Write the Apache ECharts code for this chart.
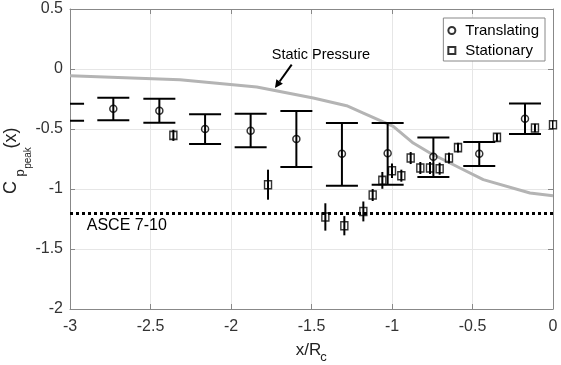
<!DOCTYPE html>
<html>
<head>
<meta charset="utf-8">
<script src="https://cdn.jsdelivr.net/npm/echarts@6/dist/echarts.min.js"></script>
<style>
  html, body { margin: 0; padding: 0; background: #fff; }
  #chart { width: 561px; height: 365px; }
</style>
</head>
<body>
<div id="chart"></div>
<script>
// translating model: position, mean, lower and upper bound
var transX = [-3.012, -2.731, -2.445, -2.161, -1.878, -1.594, -1.311, -1.027, -0.743, -0.458, -0.174];
var transY = [-0.36, -0.331, -0.347, -0.5, -0.514, -0.583, -0.706, -0.703, -0.731, -0.706, -0.414];
var transLo = [-0.431, -0.428, -0.448, -0.625, -0.653, -0.817, -0.973, -0.964, -0.9, -0.808, -0.542];
var transHi = [-0.289, -0.239, -0.248, -0.378, -0.373, -0.35, -0.45, -0.45, -0.57, -0.608, -0.287];

// stationary model: position, mean, +/- spread
var statX = [-2.358, -1.77, -1.414, -1.296, -1.178, -1.12, -1.06, -1.0, -0.942, -0.884, -0.824, -0.764, -0.704, -0.646, -0.59, -0.348, -0.112, 0.0];
var statY = [-0.553, -0.964, -1.233, -1.306, -1.187, -1.05, -0.928, -0.848, -0.889, -0.742, -0.825, -0.825, -0.831, -0.742, -0.655, -0.57, -0.492, -0.464];
var statErr = [0.046, 0.125, 0.114, 0.08, 0.083, 0.05, 0.07, 0.06, 0.05, 0.05, 0.05, 0.05, 0.05, 0.045, 0.04, 0.035, 0.035, 0.035];

// static pressure curve
var staticX = [-3, -2.317, -1.84, -1.489, -1.282, -1.178, -0.992, -0.868, -0.764, -0.578, -0.433, -0.143, 0];
var staticY = [-0.056, -0.089, -0.15, -0.242, -0.306, -0.367, -0.478, -0.617, -0.7, -0.825, -0.922, -1.033, -1.056];

var asceLevel = -1.2;

var xMin = -3, xMax = 0, xStep = 0.5;
var yMin = -2, yMax = 0.5, yStep = 0.5;

var font = 'Liberation Sans, Arial, sans-serif';
var axisGray = '#888';
var labelColor = '#333';

var transData = [], transBars = [];
for (var i = 0; i < transX.length; i++) {
  transData.push([transX[i], transY[i]]);
  transBars.push([transX[i], transLo[i], transHi[i]]);
}
var statData = [], statBars = [];
for (var j = 0; j < statX.length; j++) {
  statData.push([statX[j], statY[j]]);
  statBars.push([statX[j], statY[j] - statErr[j], statY[j] + statErr[j]]);
}
var staticData = [];
for (var k = 0; k < staticX.length; k++) {
  staticData.push([staticX[k], staticY[k]]);
}

function errorBar(cap) {
  return function (params, api) {
    var x = api.value(0);
    var top = api.coord([x, api.value(2)]);
    var bot = api.coord([x, api.value(1)]);
    var st = { stroke: '#000', lineWidth: 2, fill: null };
    var kids = [{ type: 'line', shape: { x1: top[0], y1: top[1], x2: bot[0], y2: bot[1] }, style: st }];
    if (cap > 0) {
      kids.push({ type: 'line', shape: { x1: top[0] - cap, y1: top[1], x2: top[0] + cap, y2: top[1] }, style: st });
      kids.push({ type: 'line', shape: { x1: bot[0] - cap, y1: bot[1], x2: bot[0] + cap, y2: bot[1] }, style: st });
    }
    return { type: 'group', children: kids };
  };
}

var chart = echarts.init(document.getElementById('chart'));

var frameAxis = {
  type: 'value',
  axisLine: { onZero: false, lineStyle: { color: axisGray, width: 1 } },
  axisTick: { inside: true, length: 5, lineStyle: { color: axisGray } },
  axisLabel: { show: false },
  splitLine: { show: false }
};

var option = {
  animation: false,
  grid: { left: 70, right: 8, top: 9, bottom: 56 },
  xAxis: [
    {
      type: 'value', min: xMin, max: xMax, interval: xStep,
      axisLine: { onZero: false, lineStyle: { color: axisGray, width: 1 } },
      axisTick: { inside: true, length: 5, lineStyle: { color: axisGray } },
      axisLabel: { color: labelColor, fontSize: 16, fontFamily: font, margin: 10 },
      splitLine: { show: true, lineStyle: { color: '#e6e6e6', width: 1 } }
    },
    Object.assign({ position: 'top', min: xMin, max: xMax, interval: xStep }, frameAxis)
  ],
  yAxis: [
    {
      type: 'value', min: yMin, max: yMax, interval: yStep,
      axisLine: { onZero: false, lineStyle: { color: axisGray, width: 1 } },
      axisTick: { inside: true, length: 5, lineStyle: { color: axisGray } },
      axisLabel: { color: labelColor, fontSize: 16, fontFamily: font, margin: 7 },
      splitLine: { show: true, lineStyle: { color: '#e6e6e6', width: 1 } }
    },
    Object.assign({ position: 'right', min: yMin, max: yMax, interval: yStep }, frameAxis)
  ],
  legend: {
    orient: 'vertical',
    right: 16,
    top: 18,
    padding: [5, 6, 3, 4],
    itemGap: 5,
    itemWidth: 17,
    itemHeight: 7,
    backgroundColor: '#fff',
    borderColor: '#888',
    borderWidth: 1,
    borderRadius: 0,
    textStyle: { fontSize: 15, fontFamily: font, color: '#000', lineHeight: 15 },
    data: [
      { name: 'Translating', icon: 'circle' },
      { name: 'Stationary', icon: 'path://M0,0L10,0L10,10L0,10Z' }
    ],
    z: 20
  },
  series: [
    {
      name: 'Static Pressure',
      type: 'line',
      data: staticData,
      symbol: 'none',
      silent: true,
      lineStyle: { color: '#b4b4b4', width: 3 },
      z: 2,
      markLine: {
        silent: true,
        symbol: 'none',
        label: { show: false },
        lineStyle: { color: '#000', width: 3, type: [3, 3] },
        data: [{ yAxis: asceLevel }]
      }
    },
    {
      type: 'custom',
      name: 'transBars',
      data: transBars,
      encode: { x: 0, y: [1, 2] },
      renderItem: errorBar(16),
      clip: true,
      silent: true,
      z: 3
    },
    {
      type: 'custom',
      name: 'statBars',
      data: statBars,
      encode: { x: 0, y: [1, 2] },
      renderItem: errorBar(0),
      clip: true,
      silent: true,
      z: 3
    },
    {
      name: 'Translating',
      type: 'scatter',
      data: transData,
      symbol: 'circle',
      symbolSize: 7,
      clip: true,
      itemStyle: { color: 'rgba(255,255,255,0)', borderColor: '#000', borderWidth: 1.5 },
      z: 4
    },
    {
      name: 'Stationary',
      type: 'scatter',
      data: statData,
      symbol: 'rect',
      symbolSize: [7, 8],
      clip: true,
      itemStyle: { color: 'rgba(255,255,255,0)', borderColor: '#000', borderWidth: 1.5 },
      z: 4
    }
  ]
};

chart.setOption(option);

// annotations placed from data coordinates
var txtSP = chart.convertToPixel({ gridIndex: 0 }, [-1.747, 0.125]);
var arrowTail = chart.convertToPixel({ gridIndex: 0 }, [-1.623, 0.036]);
var arrowTip = chart.convertToPixel({ gridIndex: 0 }, [-1.727, -0.158]);
var txtAsce = chart.convertToPixel({ gridIndex: 0 }, [-2.896, -1.312]);

var dx = arrowTip[0] - arrowTail[0], dy = arrowTip[1] - arrowTail[1];
var len = Math.sqrt(dx * dx + dy * dy);
var ux = dx / len, uy = dy / len;
var headLen = 8, headW = 4;
var bx = arrowTip[0] - ux * headLen, by = arrowTip[1] - uy * headLen;

chart.setOption({
  graphic: [
    {
      type: 'text', left: txtSP[0], top: txtSP[1] - 7,
      style: { text: 'Static Pressure', fontSize: 14.5, fontFamily: font, fill: '#000' }, z: 10
    },
    {
      type: 'line',
      shape: { x1: arrowTail[0], y1: arrowTail[1], x2: bx, y2: by },
      style: { stroke: '#000', lineWidth: 2 }, z: 10
    },
    {
      type: 'polygon',
      shape: { points: [arrowTip, [bx - uy * headW, by + ux * headW], [bx + uy * headW, by - ux * headW]] },
      style: { fill: '#000' }, z: 10
    },
    {
      type: 'text', left: txtAsce[0], top: txtAsce[1] - 9,
      style: { text: 'ASCE 7-10', fontSize: 16, fontFamily: font, fill: '#000' }, z: 10
    },
    // y-axis title: C_p_peak (x), rotated
    {
      type: 'text', x: 11, y: 187.5, rotation: Math.PI / 2,
      style: { text: 'C', fontSize: 18, fontFamily: font, fill: '#222', align: 'center', verticalAlign: 'middle' }
    },
    {
      type: 'text', x: 20, y: 173, rotation: Math.PI / 2,
      style: { text: 'p', fontSize: 13, fontFamily: font, fill: '#222', align: 'center', verticalAlign: 'middle' }
    },
    {
      type: 'text', x: 28, y: 158, rotation: Math.PI / 2,
      style: { text: 'peak', fontSize: 10, fontFamily: font, fill: '#222', align: 'center', verticalAlign: 'middle' }
    },
    {
      type: 'text', x: 11, y: 138, rotation: Math.PI / 2,
      style: { text: '(x)', fontSize: 18, fontFamily: font, fill: '#222', align: 'center', verticalAlign: 'middle' }
    },
    // x-axis title: x/R_c
    {
      type: 'text', x: 308.5, y: 350,
      style: { text: 'x/R', fontSize: 17, fontFamily: font, fill: '#222', align: 'center', verticalAlign: 'middle' }
    },
    {
      type: 'text', x: 323.5, y: 357,
      style: { text: 'c', fontSize: 13, fontFamily: font, fill: '#222', align: 'center', verticalAlign: 'middle' }
    }
  ]
});

window.addEventListener('resize', function () {
  chart.resize();
});
</script>
</body>
</html>
